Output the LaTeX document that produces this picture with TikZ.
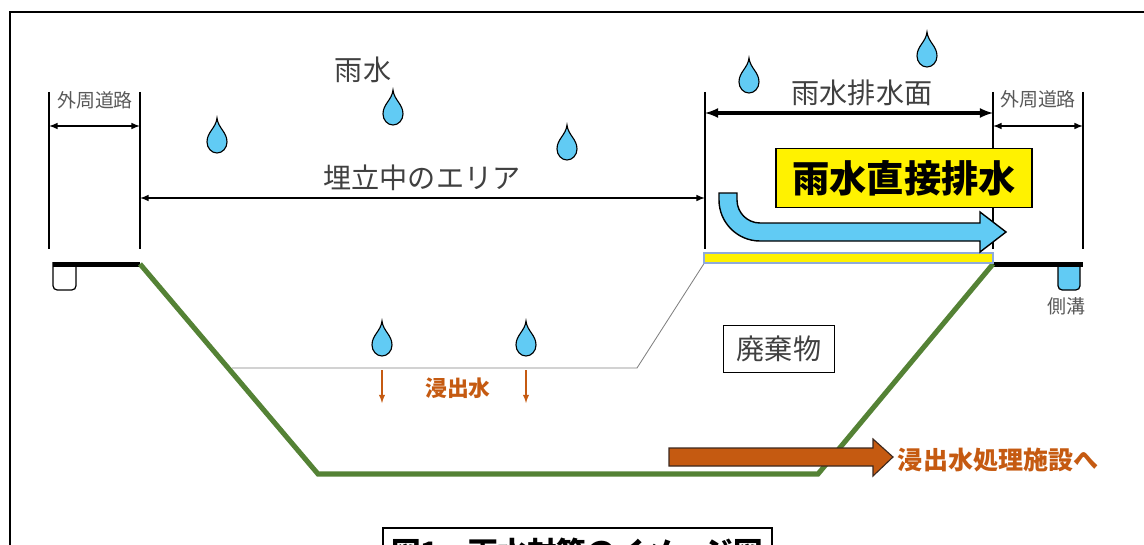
\documentclass[tikz,border=0pt]{standalone}
\usepackage{fontspec}
\setmainfont{Noto Sans CJK JP}
\usetikzlibrary{arrows.meta}

\definecolor{raincol}{RGB}{97,203,244}
\definecolor{linergreen}{RGB}{84,130,53}
\definecolor{leachcol}{RGB}{197,90,17}
\definecolor{labelgray}{RGB}{64,64,64}
\definecolor{roadgray}{RGB}{89,89,89}
\definecolor{padedge}{RGB}{143,170,220}

% a single rain drop, tip up
\tikzset{raindrop/.pic={
  \filldraw[fill=raincol, draw=black, line width=0.8pt]
    (0,-18) .. controls (1,-8) and (10,-4) .. (10,6)
    .. controls (10,12) and (5.5,17) .. (0,17)
    .. controls (-5.5,17) and (-10,12) .. (-10,6)
    .. controls (-10,-4) and (-1,-8) .. cycle;
}}

\begin{document}
\begin{tikzpicture}[>=latex, x=0.025cm, y=-0.025cm]
\tikzstyle{tick}=[line width=1.1pt]
\tikzstyle{dim}=[<->, line width=1.1pt]
\tikzstyle{road}=[text=roadgray, font=\fontsize{13.5}{16}\selectfont]
\tikzstyle{big}=[text=labelgray, font=\fontsize{20}{24}\selectfont]
\tikzstyle{leach}=[text=leachcol, font=\bfseries\fontsize{15.5}{18}\selectfont]

\useasboundingbox (0,0) rectangle (1144,545);
\clip (0,0) rectangle (1144,545);

% frame
\draw[line width=1.1pt] (10,545) -- (10,12) -- (1144,12);

% section edges
\coordinate (l0) at (49,92);
\coordinate (l1) at (140,92);
\coordinate (r0) at (705,92);
\coordinate (r1) at (993,92);
\coordinate (r2) at (1083,92);
\foreach \c in {l0,l1,r0,r1,r2}
  \draw[tick] (\c) -- ++(0,157);

% dimension arrows
\coordinate (roadLw) at (49,126);  \coordinate (roadLe) at (140,126);
\coordinate (fillw) at (140,198);  \coordinate (fille) at (705,198);
\coordinate (drainw) at (705,113); \coordinate (draine) at (993,113);
\coordinate (roadRw) at (993,126); \coordinate (roadRe) at (1083,126);
\draw[dim] (roadLw) -- (roadLe);
\draw[dim] (fillw) -- (fille);
\draw[dim, line width=2.2pt] (drainw) -- (draine);
\draw[dim] (roadRw) -- (roadRe);

\node[road] (roadL) at (95,100) {外周道路};
\node[road] (roadR) at (1038,99) {外周道路};
\node[big] (rain) at (363,70) {雨水};
\node[big] (drain) at (862,93) {雨水排水面};
\node[big] (fill) at (422,178) {埋立中のエリア};

% side ditches and road surface
\draw[line width=0.9pt, rounded corners=3pt, fill=white] (53,262) -- (53,290) -- (76,290) -- (76,262);
\draw[line width=0.9pt, rounded corners=3pt, fill=raincol] (1058,262) -- (1058,290) -- (1080,290) -- (1080,262);
\draw[line width=3.6pt] (53,264.5) -- (140,264.5);
\draw[line width=3.6pt] (993,264.5) -- (1083,264.5);
\node[road] (ditch) at (1066,306) {側溝};

% liner and waste surface
\draw[linergreen, line width=3.6pt] (140,264) -- (318,474) -- (818,474) -- (993,264);
\draw[gray, line width=0.6pt] (232,368) -- (637,368) -- (705,262);
\draw[padedge, fill=yellow, line width=0.8pt] (704,253) rectangle (993,263);

% rain
\foreach \x/\y in {217/136, 393/108, 567/143, 749/76, 927/50, 382/339, 526/339}
  \pic at (\x,\y) {raindrop};

% leachate
\coordinate (s1) at (382,370);
\coordinate (s2) at (526,370);
\draw[->, leachcol, line width=1pt] (s1) -- ++(0,33);
\draw[->, leachcol, line width=1pt] (s2) -- ++(0,33);
\node[leach] (seep) at (458,388) {浸出水};

\filldraw[fill=leachcol, draw={rgb,255:red,60;green,40;blue,30}, line width=0.8pt]
  (669,448) -- (873,448) -- (873,439) -- (893,457) -- (873,476) -- (873,466) -- (669,466) -- cycle;
\node[leach, font=\bfseries\fontsize{17.8}{20}\selectfont, anchor=west] (plant) at (893,460) {浸出水処理施設へ};

% runoff over the pad
\filldraw[fill=raincol, draw=black, line width=1pt]
  (719,193) -- (737,193) -- (737,200)
  .. controls (737,212.7) and (747.3,223) .. (760,223)
  -- (980,223) -- (980,212) -- (1006,232) -- (980,252) -- (980,241) -- (760,241)
  .. controls (737.4,241) and (719,222.6) .. (719,200) -- cycle;

\node[draw, fill=yellow, line width=0.8pt, minimum width=6.4cm, minimum height=1.475cm,
  font=\bfseries\fontsize{26.5}{30}\selectfont] (direct) at (904,178) {雨水直接排水};
\node[draw, fill=white, line width=0.8pt, minimum width=2.775cm, minimum height=1.175cm, big] (waste) at (779,349) {廃棄物};

% caption
\draw[line width=1pt, fill=white] (383,528) rectangle (772,600);
\node[font=\bfseries\fontsize{21}{25}\selectfont, anchor=base] (caption) at (577,563) {図1　雨水対策のイメージ図};
\end{tikzpicture}
\end{document}
